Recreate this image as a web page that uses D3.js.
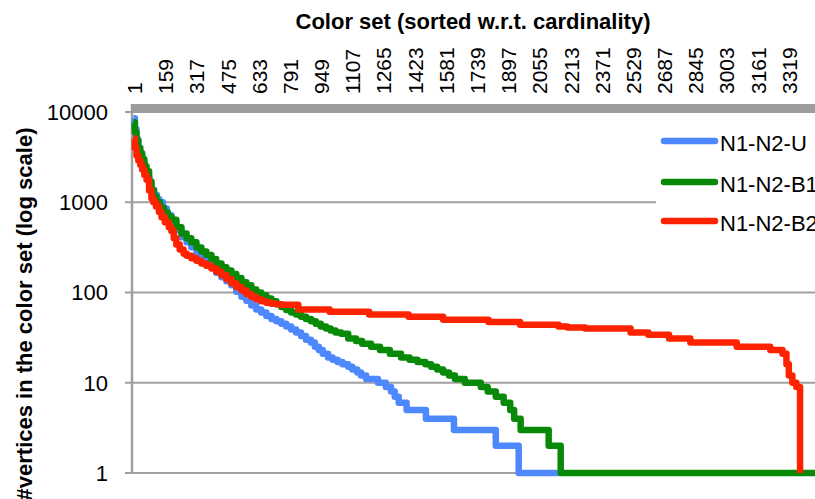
<!DOCTYPE html>
<html>
<head>
<meta charset="utf-8">
<script src="https://cdn.jsdelivr.net/npm/d3@7"></script>
<style>
  body { margin: 0; background: #fff; }
  text { font-family: "Liberation Sans", Arial, sans-serif; fill: #000; }
</style>
</head>
<body>
<div id="chart"></div>
<script>
// rank of the color set -> number of vertices in it
const seriesNames = ["N1-N2-U", "N1-N2-B1", "N1-N2-B2"];
const seriesColors = ["#4d88ff", "#088a08", "#ff2200"];

const dataU = [
  [1, 8500], [8, 6500], [16, 5000], [25, 4000], [35, 3300], [45, 2800], [56, 2300],
  [67, 1950], [80, 1600], [92, 1380], [105, 1200], [120, 1080], [132, 1000], [150, 850],
  [170, 720], [193, 600], [218, 490], [244, 410], [270, 360], [294, 317], [320, 275],
  [345, 240], [370, 212], [396, 190], [420, 165], [447, 148], [472, 133], [497, 120],
  [522, 102], [548, 90], [573, 81], [598, 72], [623, 65], [648, 60], [674, 55], [700, 51],
  [725, 48], [750, 45], [775, 42], [800, 39], [825, 36], [850, 33], [875, 30], [900, 28],
  [920, 25], [940, 23], [960, 21], [987, 19], [1010, 18], [1035, 17], [1060, 16],
  [1089, 15], [1110, 14], [1135, 13], [1154, 12], [1180, 11], [1240, 10], [1280, 9],
  [1306, 8], [1325, 7], [1345, 6], [1385, 5], [1483, 4], [1625, 3], [1837, 2],
  [1953, 1], [2160, 1]
];

const dataB1 = [
  [1, 7700], [8, 6000], [16, 4800], [25, 4000], [35, 3500], [45, 3000], [56, 2500],
  [67, 2200], [80, 1700], [92, 1350], [105, 1150], [117, 1000], [135, 870], [155, 770],
  [175, 690], [193, 640], [218, 530], [244, 450], [270, 400], [294, 360], [320, 315],
  [345, 285], [370, 260], [396, 235], [420, 210], [447, 190], [472, 175], [497, 160],
  [522, 145], [548, 130], [573, 120], [598, 108], [623, 100], [648, 93], [674, 86],
  [700, 80], [725, 74], [750, 69], [775, 64], [800, 60], [825, 57], [850, 54], [875, 51],
  [901, 48], [925, 45], [950, 42], [977, 40], [1000, 38], [1025, 36], [1053, 35],
  [1089, 31], [1129, 29], [1160, 27], [1205, 25], [1250, 23], [1300, 21], [1357, 19],
  [1400, 18], [1440, 17], [1480, 16], [1509, 15], [1540, 14], [1570, 13], [1600, 12],
  [1630, 11], [1680, 10], [1761, 9], [1796, 8], [1837, 7], [1877, 6], [1910, 5],
  [1930, 4], [1963, 3], [2105, 2], [2166, 1], [3480, 1]
];

const dataB2 = [
  [1, 5100], [8, 4000], [16, 3300], [25, 2900], [35, 2600], [45, 2300], [56, 2000],
  [67, 1770], [80, 1350], [92, 1100], [102, 1000], [115, 900], [130, 780], [143, 680],
  [160, 600], [180, 530], [193, 480], [205, 400], [218, 340], [235, 300], [255, 270],
  [270, 255], [294, 240], [320, 225], [345, 210], [370, 198], [396, 185], [420, 170],
  [447, 155], [472, 140], [497, 127], [522, 115], [548, 105], [573, 96], [598, 89],
  [623, 84], [648, 80], [674, 77], [700, 75], [725, 74], [750, 73], [836, 65],
  [995, 61], [1195, 57], [1395, 54], [1570, 50], [1800, 47], [1960, 44], [2155, 42],
  [2200, 41], [2290, 40], [2520, 36], [2610, 34], [2715, 31], [2823, 28], [3058, 25],
  [3228, 23], [3290, 21], [3310, 16], [3322, 12], [3340, 10], [3360, 9], [3379, 1]
];

const xTickLabels = [1, 159, 317, 475, 633, 791, 949, 1107, 1265, 1423, 1581, 1739,
  1897, 2055, 2213, 2371, 2529, 2687, 2845, 3003, 3161, 3319];
const yTickLabels = [1, 10, 100, 1000, 10000];

const width = 815;
const height = 499;

const svg = d3.select("#chart")
  .append("svg")
  .attr("width", width)
  .attr("height", height)
  .style("display", "block");

svg.append("rect").attr("width", width).attr("height", height).attr("fill", "#fff");

const x = d3.scaleLinear().domain([1, 3480]).range([133.5, 820]);
const y = d3.scaleLog().domain([1, 10000]).range([473, 112]);

const gridColor = "#a0a0a0";

// horizontal gridlines + left tick marks
svg.append("g")
  .selectAll("line")
  .data(yTickLabels)
  .enter().append("line")
  .attr("x1", 125)
  .attr("x2", width)
  .attr("y1", d => y(d))
  .attr("y2", d => y(d))
  .attr("stroke", gridColor)
  .attr("stroke-width", 2);

// y tick labels
svg.append("g")
  .selectAll("text")
  .data(yTickLabels)
  .enter().append("text")
  .attr("x", 108)
  .attr("y", d => y(d))
  .attr("dy", "0.36em")
  .attr("text-anchor", "end")
  .style("font-size", "22px")
  .text(d => d);

// left axis line
svg.append("line")
  .attr("x1", 132).attr("x2", 132)
  .attr("y1", 104).attr("y2", y(1) + 1)
  .attr("stroke", gridColor)
  .attr("stroke-width", 2.5);

// top category axis: dense tick marks form a solid band
svg.append("rect")
  .attr("x", 131)
  .attr("y", 104)
  .attr("width", width - 131)
  .attr("height", 9)
  .attr("fill", "#9c9c9c");

// x tick labels, rotated
svg.append("g")
  .selectAll("text")
  .data(xTickLabels)
  .enter().append("text")
  .attr("transform", d => `translate(${x(d) + 1},94) rotate(-90)`)
  .attr("dy", "0.36em")
  .attr("text-anchor", "start")
  .style("font-size", "21px")
  .text(d => d);

// titles
svg.append("text")
  .attr("x", 473)
  .attr("y", 29)
  .attr("text-anchor", "middle")
  .style("font-size", "22px")
  .style("font-weight", "bold")
  .text("Color set (sorted w.r.t. cardinality)");

svg.append("text")
  .attr("transform", "translate(32,314) rotate(-90)")
  .attr("text-anchor", "middle")
  .style("font-size", "22px")
  .style("font-weight", "bold")
  .text("#vertices in the color set (log scale)");

// series lines
const line = d3.line()
  .x(d => x(d[0]))
  .y(d => y(d[1]))
  .curve(d3.curveStepAfter);

const allSeries = [dataU, dataB1, dataB2];

svg.append("g")
  .selectAll("path")
  .data(allSeries)
  .enter().append("path")
  .attr("d", line)
  .attr("fill", "none")
  .attr("stroke", (d, i) => seriesColors[i])
  .attr("stroke-width", 6.5)
  .attr("stroke-linejoin", "round");

// legend
const legend = svg.append("g");
legend.append("rect")
  .attr("x", 656).attr("y", 122)
  .attr("width", width - 656).attr("height", 118)
  .attr("fill", "#fff");

const legendY = [141, 182, 221];
const items = legend.selectAll("g.item")
  .data(seriesNames)
  .enter().append("g")
  .attr("class", "item")
  .attr("transform", (d, i) => `translate(0,${legendY[i]})`);

items.append("line")
  .attr("x1", 664).attr("x2", 715)
  .attr("y1", 0).attr("y2", 0)
  .attr("stroke", (d, i) => seriesColors[i])
  .attr("stroke-width", 6.5)
  .attr("stroke-linecap", "round");

items.append("text")
  .attr("x", 720)
  .attr("y", 10)
  .style("font-size", "22px")
  .text(d => d);
</script>
</body>
</html>
